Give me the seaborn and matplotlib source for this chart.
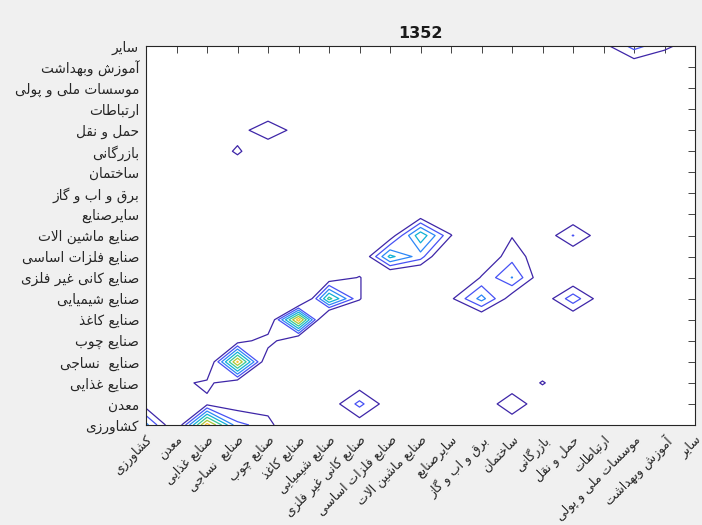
import numpy as np
import pandas as pd
import matplotlib
matplotlib.use("Agg")
import matplotlib.pyplot as plt
import seaborn as sns

# ---------------- data ----------------
sectors = [
    "کشاورزی", "معدن", "صنایع غذایی", "صنایع  نساجی", "صنایع چوب",
    "صنایع کاغذ", "صنایع شیمیایی", "صنایع کانی غیر فلزی", "صنایع فلزات اساسی",
    "صنایع ماشین الات", "سایرصنایع", "برق و اب و گاز", "ساختمان", "بازرگانی",
    "حمل و نقل", "ارتباطات", "موسسات ملی و پولی", "آموزش وبهداشت", "سایر",
]
title_text = "1352"

base_value = 3.0
# (row = supplying sector index, col = using sector index), 1-based
cell_rows = [1, 1, 1, 1, 1, 1, 2, 2, 2, 2, 2, 1, 2, 2, 3, 2, 2, 3, 3, 3, 3,
             4, 4, 4, 5, 5, 5, 6, 6, 6, 7, 7, 7, 7, 6, 8, 8, 9, 8,
             9, 9, 10, 10, 8, 11, 10, 10, 9, 11,
             7, 7, 7, 6, 8, 8, 8, 9, 9, 9, 10, 8,
             7, 7, 7, 6, 8,
             10, 10, 10, 9, 11,
             14, 15, 15, 15, 14, 16,
             19, 18, 19, 19, 19, 18]
cell_cols = [1, 2, 3, 4, 5, 6, 1, 3, 4, 5, 8, 8, 7, 9, 8, 13, 14, 14, 13, 2, 3,
             3, 4, 5, 4, 5, 6, 5, 6, 7, 6, 7, 8, 9, 8, 7, 8, 8, 9,
             9, 10, 10, 9, 10, 10, 11, 12, 11, 9,
             11, 12, 13, 12, 12, 13, 14, 12, 13, 14, 13, 11,
             14, 15, 16, 15, 15,
             14, 15, 16, 15, 15,
             4, 4, 5, 6, 5, 5,
             17, 17, 16, 18, 19, 18]
cell_vals = [6.3, 2.7, 10.5, 5.3, 4.5, 2.0, 3.4, 3.7, 3.4, 3.34, 5.3, 3.3, 3.3, 3.3, 3.3, 4.95, 3.0, 4.1, 3.0, 3.6, 4.3,
             2.1, 10.2, 2.45, 3.3, 4.8, 2.0, 2.2, 10.6, 0.4, 0.5, 8.4, 4.1, 2.0, 2.5, 3.0, 4.1, 2.4, 2.0,
             7.3, 5.5, 7.8, 3.2, 1.75, 3.1, 4.05, 2.0, 1.5, 2.5,
             3.8, 6.4, 3.3, 2.6, 4.1, 6.05, 3.1, 2.93, 4.6, 3.27, 3.93, 2.2,
             3.2, 5.6, 3.2, 2.9, 2.9,
             3.2, 5.05, 3.2, 3.0, 3.0,
             4.2, 3.45, 4.9, 3.45, 2.8, 2.8,
             5.4, 3.07, 3.65, 4.3, 3.3, 2.8]

levels = [4, 5, 6, 7, 8, 9, 10, 11]
level_colors = ["#3e26a8", "#4752f4", "#2d87f7", "#11b1d6", "#37c897",
                "#abc738", "#fec336", "#f9fa15"]

# ---------------- Persian shaping ----------------
DUAL = {
    "ب": "\uFE8F\uFE90\uFE91\uFE92", "پ": "\uFB56\uFB57\uFB58\uFB59",
    "ت": "\uFE95\uFE96\uFE97\uFE98", "ث": "\uFE99\uFE9A\uFE9B\uFE9C",
    "ج": "\uFE9D\uFE9E\uFE9F\uFEA0", "چ": "\uFB7A\uFB7B\uFB7C\uFB7D",
    "ح": "\uFEA1\uFEA2\uFEA3\uFEA4", "خ": "\uFEA5\uFEA6\uFEA7\uFEA8",
    "س": "\uFEB1\uFEB2\uFEB3\uFEB4", "ش": "\uFEB5\uFEB6\uFEB7\uFEB8",
    "ص": "\uFEB9\uFEBA\uFEBB\uFEBC", "ض": "\uFEBD\uFEBE\uFEBF\uFEC0",
    "ط": "\uFEC1\uFEC2\uFEC3\uFEC4", "ظ": "\uFEC5\uFEC6\uFEC7\uFEC8",
    "ع": "\uFEC9\uFECA\uFECB\uFECC", "غ": "\uFECD\uFECE\uFECF\uFED0",
    "ف": "\uFED1\uFED2\uFED3\uFED4", "ق": "\uFED5\uFED6\uFED7\uFED8",
    "ک": "\uFB8E\uFB8F\uFB90\uFB91", "گ": "\uFB92\uFB93\uFB94\uFB95",
    "ل": "\uFEDD\uFEDE\uFEDF\uFEE0", "م": "\uFEE1\uFEE2\uFEE3\uFEE4",
    "ن": "\uFEE5\uFEE6\uFEE7\uFEE8", "ه": "\uFEE9\uFEEA\uFEEB\uFEEC",
    "ی": "\uFBFC\uFBFD\uFBFE\uFBFF", "ئ": "\uFE89\uFE8A\uFE8B\uFE8C",
}
RIGHT = {
    "ا": "\uFE8D\uFE8E", "آ": "\uFE81\uFE82", "د": "\uFEA9\uFEAA",
    "ذ": "\uFEAB\uFEAC", "ر": "\uFEAD\uFEAE", "ز": "\uFEAF\uFEB0",
    "ژ": "\uFB8A\uFB8B", "و": "\uFEED\uFEEE",
}
LAMALEF = {"ا": "\uFEFB\uFEFC", "آ": "\uFEF5\uFEF6"}


def is_letter(c):
    return c in DUAL or c in RIGHT


def shape(text):
    out = []
    n = len(text)
    i = 0
    while i < n:
        c = text[i]
        prev = text[i - 1] if i > 0 else None
        cp = prev is not None and prev in DUAL and is_letter(c)
        if c == "ل" and i + 1 < n and text[i + 1] in LAMALEF:
            lig = LAMALEF[text[i + 1]]
            out.append(lig[1] if cp else lig[0])
            i += 2
            continue
        nxt = text[i + 1] if i + 1 < n else None
        if c in DUAL:
            cn = nxt is not None and is_letter(nxt)
            idx = 3 if (cp and cn) else 1 if cp else 2 if cn else 0
            out.append(DUAL[c][idx])
        elif c in RIGHT:
            out.append(RIGHT[c][1] if cp else RIGHT[c][0])
        else:
            out.append(c)
        i += 1
    return "".join(reversed(out))


# ---------------- build grid ----------------
n = len(sectors)
Z = np.full((n, n), base_value)
for r, c, v in zip(cell_rows, cell_cols, cell_vals):
    Z[r - 1, c - 1] = v
pos = np.arange(1, n + 1)
df = pd.DataFrame(Z, index=pos, columns=pos)

# ---------------- plot ----------------
sns.set_style("white")
plt.rcParams["font.family"] = ["DejaVu Sans"]

fig = plt.figure(figsize=(7.02, 5.25), dpi=100, facecolor="#f0f0f0")
ax = fig.add_axes([146 / 702, 100 / 525, (695 - 146) / 702, (425 - 46) / 525])
ax.set_facecolor("white")

ax.contour(df.columns.values, df.index.values, df.values, levels=levels,
           colors=level_colors, linewidths=0.9)

ax.set_xlim(1, n)
ax.set_ylim(1, n)
ax.set_xticks(pos)
ax.set_yticks(pos)
shaped = [shape(s) for s in sectors]
ax.set_yticklabels(shaped, fontsize=9.8)
ax.set_xticklabels(shaped, fontsize=9, rotation=45, ha="right", va="top",
                   rotation_mode="anchor")
ax.tick_params(direction="in", length=5, width=0.6, top=True, right=True,
               color="#262626", labelcolor="#262626")
ax.tick_params(axis="x", pad=6)
ax.tick_params(axis="y", pad=5)
for sp in ax.spines.values():
    sp.set_visible(True)
    sp.set_color("#262626")
    sp.set_linewidth(0.8)

ax.set_title(title_text, fontsize=11.5, fontweight="bold", pad=6, color="#1a1a1a")

fig.savefig("out.png", dpi=100, facecolor=fig.get_facecolor())
